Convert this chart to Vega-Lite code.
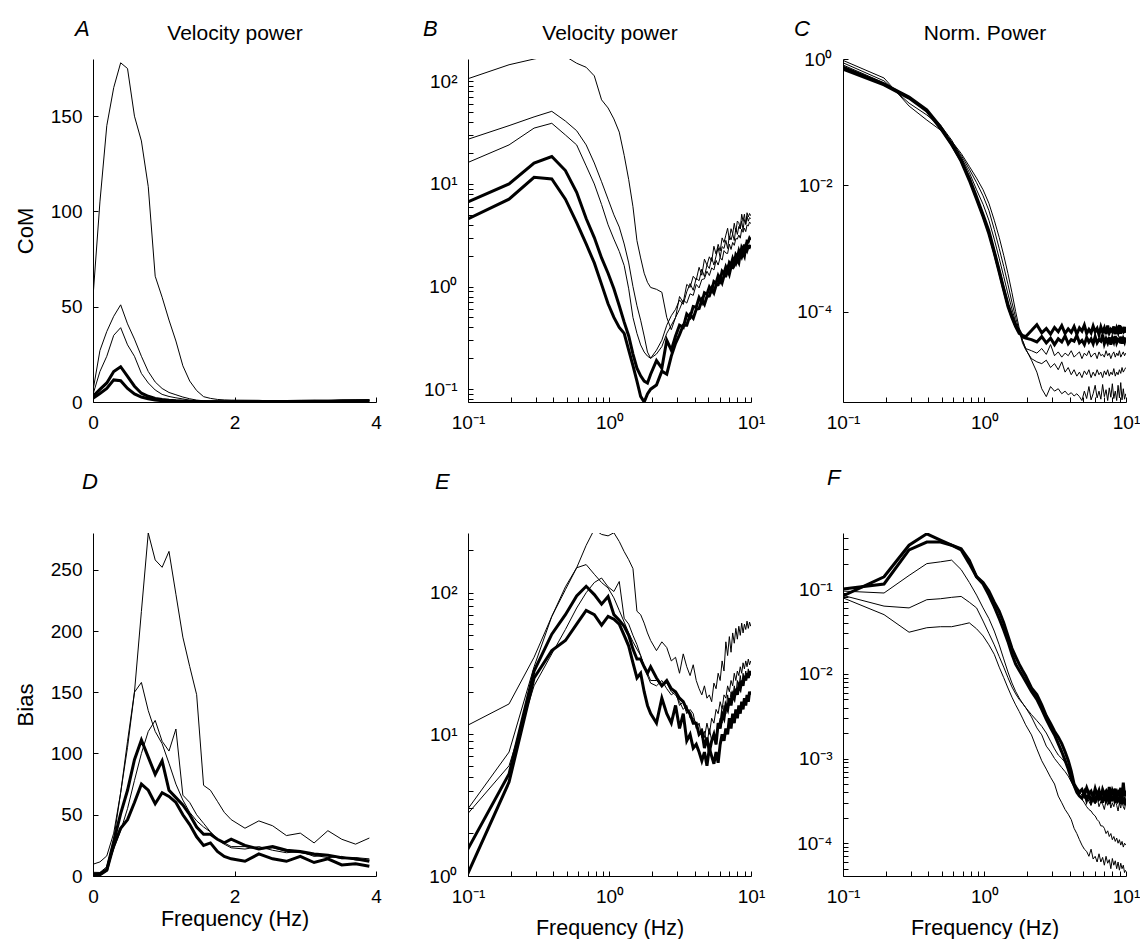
{
"$schema": "https://vega.github.io/schema/vega-lite/v6.json",
"padding": {"left": 14, "top": 17, "right": 0, "bottom": 0},
"background": "white",
"config": {
 "view": {"stroke": null},
 "font": "Liberation Sans",
 "axis": {"grid": false, "domainColor": "black", "domainWidth": 1, "tickColor": "black", "tickWidth": 1, "tickSize": -5, "labelFont": "Liberation Sans", "labelFontSize": 19, "labelColor": "black", "labelFlush": false, "labelOverlap": false, "titleFont": "Liberation Sans", "titleFontSize": 21, "titleFontWeight": "normal", "titleColor": "black"},
 "axisX": {"labelPadding": 16},
 "axisY": {"labelPadding": 16},
 "title": {"font": "Liberation Sans", "fontSize": 22, "fontStyle": "italic", "fontWeight": "normal", "anchor": "start", "frame": "group", "baseline": "alphabetic", "color": "black"}
},
"datasets": {
"com": [
{"f":0,"a":55,"b":6,"c":4,"d":3,"e":2},
{"f":0.098,"a":105,"b":27,"c":16,"d":6.6,"e":4.5},
{"f":0.195,"a":145,"b":37,"c":24,"d":10,"e":7.1},
{"f":0.293,"a":165,"b":45,"c":35,"d":16,"e":11.6},
{"f":0.391,"a":178,"b":51,"c":39,"d":18.5,"e":11.2},
{"f":0.488,"a":175,"b":41,"c":30,"d":13.5,"e":7.1},
{"f":0.586,"a":150,"b":33,"c":24,"d":8.3,"e":4.2},
{"f":0.684,"a":137,"b":24,"c":15,"d":4.6,"e":2.6},
{"f":0.781,"a":113,"b":16,"c":10,"d":3.0,"e":1.7},
{"f":0.879,"a":66,"b":10.5,"c":6.3,"d":1.9,"e":1.05},
{"f":0.977,"a":55,"b":7.1,"c":4.0,"d":1.35,"e":0.68},
{"f":1.074,"a":43,"b":5.0,"c":2.9,"d":0.95,"e":0.5},
{"f":1.172,"a":32,"b":3.8,"c":2.2,"d":0.65,"e":0.4},
{"f":1.27,"a":19,"b":2.6,"c":1.6,"d":0.45,"e":0.35},
{"f":1.367,"a":11,"b":1.7,"c":0.95,"d":0.33,"e":0.24},
{"f":1.465,"a":6,"b":1.0,"c":0.5,"d":0.22,"e":0.17},
{"f":1.563,"a":2.8,"b":0.65,"c":0.35,"d":0.16,"e":0.12},
{"f":1.66,"a":1.9,"b":0.47,"c":0.27,"d":0.135,"e":0.085},
{"f":1.758,"a":1.35,"b":0.33,"c":0.23,"d":0.12,"e":0.075},
{"f":1.855,"a":1.1,"b":0.23,"c":0.21,"d":0.115,"e":0.09},
{"f":1.953,"a":0.98,"b":0.2,"c":0.2,"d":0.14,"e":0.1},
{"f":2.148,"a":0.94,"b":0.24,"c":0.22,"d":0.19,"e":0.11},
{"f":2.344,"a":0.88,"b":0.3,"c":0.26,"d":0.16,"e":0.15},
{"f":2.539,"a":0.5,"b":0.42,"c":0.35,"d":0.3,"e":0.14},
{"f":2.734,"a":0.38,"b":0.52,"c":0.42,"d":0.24,"e":0.21},
{"f":2.93,"a":0.5,"b":0.6,"c":0.5,"d":0.33,"e":0.28},
{"f":3.125,"a":0.8,"b":0.74,"c":0.6,"d":0.42,"e":0.34},
{"f":3.32,"a":0.7,"b":0.67,"c":0.74,"d":0.4,"e":0.42},
{"f":3.516,"a":1.05,"b":0.89,"c":0.69,"d":0.54,"e":0.42},
{"f":3.711,"a":0.98,"b":1.07,"c":0.85,"d":0.5,"e":0.53},
{"f":3.906,"a":1.26,"b":0.92,"c":0.82,"d":0.64,"e":0.49},
{"f":4.102,"a":1.16,"b":1.21,"c":1.05,"d":0.63,"e":0.6},
{"f":4.297,"a":1.54,"b":1.14,"c":0.97,"d":0.78,"e":0.61},
{"f":4.492,"a":1.29,"b":1.48,"c":1.17,"d":0.7,"e":0.74},
{"f":4.688,"a":1.85,"b":1.25,"c":1.19,"d":0.87,"e":0.67},
{"f":4.883,"a":1.62,"b":1.62,"c":1.41,"d":0.84,"e":0.8},
{"f":5.078,"a":1.95,"b":1.5,"c":1.28,"d":0.99,"e":0.81},
{"f":5.273,"a":1.76,"b":1.92,"c":1.52,"d":0.91,"e":0.96},
{"f":5.469,"a":2.47,"b":1.62,"c":1.45,"d":1.12,"e":0.87},
{"f":5.664,"a":2.07,"b":1.98,"c":1.8,"d":1.08,"e":1.03},
{"f":5.859,"a":2.58,"b":2.39,"c":1.62,"d":1.27,"e":1.04},
{"f":6.055,"a":2.22,"b":1.92,"c":1.92,"d":1.15,"e":1.21},
{"f":6.25,"a":2.98,"b":2.45,"c":1.81,"d":1.41,"e":1.09},
{"f":6.445,"a":2.69,"b":2.35,"c":2.24,"d":1.34,"e":1.27},
{"f":6.641,"a":3.17,"b":2.82,"c":2.12,"d":1.55,"e":1.27},
{"f":6.836,"a":3.7,"b":2.35,"c":2.1,"d":1.41,"e":1.48},
{"f":7.031,"a":2.85,"b":3.11,"c":2.59,"d":1.71,"e":1.32},
{"f":7.227,"a":3.66,"b":2.85,"c":2.3,"d":1.63,"e":1.55},
{"f":7.422,"a":3.25,"b":3.25,"c":2.69,"d":1.87,"e":1.53},
{"f":7.617,"a":4.14,"b":2.81,"c":2.52,"d":1.69,"e":1.78},
{"f":7.813,"a":3.4,"b":3.71,"c":2.94,"d":2.04,"e":1.67},
{"f":8.008,"a":4.35,"b":3.22,"c":2.9,"d":1.93,"e":1.83},
{"f":8.203,"a":4.19,"b":3.85,"c":3.18,"d":2.21,"e":1.71},
{"f":8.398,"a":3.65,"b":3.65,"c":2.96,"d":1.99,"e":2.09},
{"f":8.594,"a":5.07,"b":4.34,"c":3.62,"d":2.39,"e":1.95},
{"f":8.789,"a":4.32,"b":3.57,"c":3.38,"d":2.25,"e":2.14},
{"f":8.984,"a":5.07,"b":4.49,"c":3.71,"d":2.57,"e":1.99},
{"f":9.18,"a":4.04,"b":4.04,"c":3.43,"d":2.3,"e":2.42},
{"f":9.375,"a":5.24,"b":4.82,"c":3.98,"d":2.76,"e":2.26},
{"f":9.57,"a":4.76,"b":4.33,"c":3.9,"d":2.73,"e":2.47},
{"f":9.766,"a":5.15,"b":4.7,"c":4.26,"d":2.96,"e":2.42},
{"f":9.961,"a":4.9,"b":4.6,"c":4.1,"d":2.85,"e":2.55}
],
"bias": [
{"f":0,"a":9.6,"b":3,"c":2,"d":1.5,"e":1},
{"f":0.098,"a":11.5,"b":2.9,"c":2.7,"d":1.5,"e":1.0},
{"f":0.195,"a":16.4,"b":7.5,"c":6.0,"d":5.25,"e":4.6},
{"f":0.293,"a":35,"b":30,"c":22,"d":28,"e":25},
{"f":0.391,"a":68,"b":68,"c":37,"d":51,"e":39},
{"f":0.488,"a":105,"b":110,"c":55,"d":70,"e":46},
{"f":0.586,"a":150,"b":150,"c":78,"d":95,"e":60},
{"f":0.684,"a":216,"b":158,"c":100,"d":111,"e":75},
{"f":0.781,"a":280,"b":135,"c":118,"d":97,"e":70},
{"f":0.879,"a":258,"b":118,"c":127,"d":83,"e":59},
{"f":0.977,"a":252,"b":108,"c":110,"d":94,"e":68},
{"f":1.074,"a":265,"b":92,"c":102,"d":70,"e":65},
{"f":1.172,"a":230,"b":75,"c":120,"d":64,"e":60},
{"f":1.27,"a":195,"b":62,"c":66,"d":58,"e":50},
{"f":1.367,"a":171,"b":52,"c":60,"d":50,"e":42},
{"f":1.465,"a":148,"b":45,"c":50,"d":40,"e":32},
{"f":1.563,"a":74,"b":40,"c":43,"d":34,"e":25},
{"f":1.66,"a":70,"b":36,"c":36,"d":34,"e":27},
{"f":1.758,"a":61,"b":30,"c":30,"d":30,"e":20},
{"f":1.855,"a":52,"b":27,"c":26,"d":27,"e":16},
{"f":1.953,"a":46,"b":24,"c":23,"d":30,"e":14},
{"f":2.148,"a":39,"b":24,"c":22,"d":25,"e":12},
{"f":2.344,"a":45,"b":22,"c":24,"d":22,"e":18},
{"f":2.539,"a":41,"b":23,"c":21,"d":24,"e":14},
{"f":2.734,"a":33,"b":20,"c":19,"d":21,"e":12},
{"f":2.93,"a":35,"b":19,"c":20,"d":20,"e":16},
{"f":3.125,"a":27,"b":17,"c":16,"d":18,"e":11},
{"f":3.32,"a":37,"b":15,"c":17,"d":17,"e":14},
{"f":3.516,"a":30,"b":16,"c":14,"d":15,"e":9},
{"f":3.711,"a":26,"b":13,"c":15,"d":14,"e":10},
{"f":3.906,"a":31,"b":13,"c":14,"d":12,"e":8},
{"f":4.102,"a":24,"b":12,"c":11,"d":12,"e":8.5},
{"f":4.297,"a":21,"b":10,"c":12,"d":10,"e":7.5},
{"f":4.492,"a":19,"b":11,"c":9.5,"d":10.5,"e":6.5},
{"f":4.688,"a":22,"b":9.5,"c":10.5,"d":8,"e":7.5},
{"f":4.883,"a":18,"b":12,"c":8.5,"d":9.5,"e":6},
{"f":5.078,"a":19,"b":10,"c":11,"d":7.5,"e":8},
{"f":5.273,"a":17,"b":13,"c":9,"d":9,"e":7},
{"f":5.469,"a":23,"b":12,"c":10,"d":10,"e":6.2},
{"f":5.664,"a":21,"b":15,"c":8.5,"d":8.5,"e":7.5},
{"f":5.859,"a":27,"b":14,"c":11,"d":12,"e":6.3},
{"f":6.055,"a":24,"b":17,"c":13,"d":11,"e":8.5},
{"f":6.25,"a":33,"b":15,"c":12,"d":14,"e":10},
{"f":6.445,"a":28,"b":19,"c":16,"d":13,"e":9},
{"f":6.641,"a":45,"b":18,"c":14,"d":16,"e":11},
{"f":6.836,"a":36,"b":22,"c":19,"d":15,"e":10},
{"f":7.031,"a":49,"b":20,"c":16,"d":18,"e":13},
{"f":7.227,"a":38,"b":24,"c":20,"d":16,"e":11},
{"f":7.422,"a":52,"b":22,"c":18,"d":19,"e":14},
{"f":7.617,"a":44,"b":27,"c":22,"d":18,"e":12},
{"f":7.813,"a":56,"b":24,"c":19,"d":21,"e":15},
{"f":8.008,"a":47,"b":28,"c":24,"d":19,"e":13},
{"f":8.203,"a":58,"b":26,"c":21,"d":22,"e":16},
{"f":8.398,"a":50,"b":30,"c":26,"d":21,"e":14},
{"f":8.594,"a":61,"b":27,"c":22,"d":24,"e":17},
{"f":8.789,"a":52,"b":32,"c":27,"d":22,"e":15},
{"f":8.984,"a":60,"b":29,"c":24,"d":26,"e":18},
{"f":9.18,"a":55,"b":33,"c":28,"d":24,"e":16},
{"f":9.375,"a":63,"b":30,"c":25,"d":27,"e":19},
{"f":9.57,"a":56,"b":34,"c":29,"d":25,"e":17},
{"f":9.766,"a":62,"b":31,"c":26,"d":28,"e":20},
{"f":9.961,"a":58,"b":33,"c":28,"d":26,"e":19}
],
"normcom": [
{"f":0.098,"a":0.97,"b":0.89,"c":0.82,"d":0.76,"e":0.7},
{"f":0.195,"a":0.5,"b":0.45,"c":0.42,"d":0.4,"e":0.39},
{"f":0.293,"a":0.18,"b":0.2,"c":0.25,"d":0.25,"e":0.24},
{"f":0.391,"a":0.108,"b":0.13,"c":0.15,"d":0.156,"e":0.15},
{"f":0.488,"a":0.075,"b":0.085,"c":0.09,"d":0.085,"e":0.08},
{"f":0.586,"a":0.05,"b":0.048,"c":0.052,"d":0.045,"e":0.044},
{"f":0.684,"a":0.032,"b":0.03,"c":0.028,"d":0.024,"e":0.025},
{"f":0.781,"a":0.02,"b":0.018,"c":0.016,"d":0.012,"e":0.013},
{"f":0.879,"a":0.013,"b":0.011,"c":0.0085,"d":0.006,"e":0.0065},
{"f":0.977,"a":0.0085,"b":0.0068,"c":0.005,"d":0.0032,"e":0.0034},
{"f":1.074,"a":0.0052,"b":0.004,"c":0.0028,"d":0.0017,"e":0.0019},
{"f":1.172,"a":0.0028,"b":0.002,"c":0.0014,"d":0.00085,"e":0.0009},
{"f":1.27,"a":0.0015,"b":0.001,"c":0.0007,"d":0.00042,"e":0.00045},
{"f":1.367,"a":0.00078,"b":0.00052,"c":0.00036,"d":0.00022,"e":0.00023},
{"f":1.465,"a":0.0004,"b":0.00027,"c":0.00019,"d":0.00012,"e":0.00013},
{"f":1.563,"a":0.0002,"b":0.00014,"c":0.00011,"d":8e-5,"e":8.5e-5},
{"f":1.66,"a":0.0001,"b":8e-5,"c":6.8e-5,"d":5.8e-5,"e":6e-5},
{"f":1.758,"a":5.5e-5,"b":5e-5,"c":5e-5,"d":4.5e-5,"e":5e-5},
{"f":1.855,"a":3.5e-5,"b":3.2e-5,"c":3.5e-5,"d":4.2e-5,"e":4e-5},
{"f":1.953,"a":2.6e-5,"b":2.5e-5,"c":2.6e-5,"d":4e-5,"e":3.8e-5},
{"f":2.148,"a":1.7e-5,"b":1.8e-5,"c":2.4e-5,"d":5.0e-5,"e":3.6e-5},
{"f":2.344,"a":1.1e-5,"b":1.6e-5,"c":2.2e-5,"d":6.2e-5,"e":3.3e-5},
{"f":2.539,"a":6e-6,"b":1.5e-5,"c":2.6e-5,"d":4.6e-5,"e":4.0e-5},
{"f":2.734,"a":4.5e-6,"b":1.7e-5,"c":2.1e-5,"d":5.4e-5,"e":3.2e-5},
{"f":2.93,"a":6.5e-6,"b":1.3e-5,"c":3.0e-5,"d":4.4e-5,"e":3.8e-5},
{"f":3.125,"a":5.5e-6,"b":1.5e-5,"c":2.0e-5,"d":5.6e-5,"e":3.0e-5},
{"f":3.32,"a":6e-6,"b":1.2e-5,"c":2.3e-5,"d":4.8e-5,"e":3.7e-5},
{"f":3.516,"a":5e-6,"b":1.6e-5,"c":1.9e-5,"d":6.0e-5,"e":3.3e-5},
{"f":3.711,"a":5.5e-6,"b":1.1e-5,"c":2.2e-5,"d":4.5e-5,"e":4.1e-5},
{"f":3.906,"a":4.8e-6,"b":1.3e-5,"c":2.0e-5,"d":5.3e-5,"e":3.1e-5},
{"f":4.102,"a":5.2e-6,"b":1.0e-5,"c":2.4e-5,"d":4.7e-5,"e":3.6e-5},
{"f":4.297,"a":4.6e-6,"b":1.2e-5,"c":1.9e-5,"d":5.8e-5,"e":3.4e-5},
{"f":4.492,"a":5e-6,"b":9.5e-6,"c":2.1e-5,"d":4.4e-5,"e":4.2e-5},
{"f":4.688,"a":4.5e-6,"b":1.1e-5,"c":2.3e-5,"d":5.5e-5,"e":3.2e-5},
{"f":4.883,"a":3.9e-6,"b":9e-6,"c":1.8e-5,"d":4.9e-5,"e":3.5e-5},
{"f":5.078,"a":5.5e-6,"b":1.15e-5,"c":2.2e-5,"d":6.1e-5,"e":3.0e-5},
{"f":5.273,"a":4.2e-6,"b":1.0e-5,"c":2.0e-5,"d":4.5e-5,"e":3.9e-5},
{"f":5.469,"a":6.5e-6,"b":1.2e-5,"c":2.4e-5,"d":5.2e-5,"e":3.3e-5},
{"f":5.664,"a":4e-6,"b":9e-6,"c":1.9e-5,"d":4.6e-5,"e":3.7e-5},
{"f":5.859,"a":5e-6,"b":1.1e-5,"c":2.1e-5,"d":5.9e-5,"e":3.1e-5},
{"f":6.055,"a":6.8e-6,"b":9.5e-6,"c":2.2e-5,"d":4.8e-5,"e":4.0e-5},
{"f":6.25,"a":4.3e-6,"b":1.2e-5,"c":1.8e-5,"d":5.4e-5,"e":3.2e-5},
{"f":6.445,"a":5.5e-6,"b":1.0e-5,"c":2.3e-5,"d":4.3e-5,"e":3.6e-5},
{"f":6.641,"a":4.1e-6,"b":1.1e-5,"c":2.0e-5,"d":5.7e-5,"e":3.4e-5},
{"f":6.836,"a":7e-6,"b":9e-6,"c":2.1e-5,"d":4.7e-5,"e":4.3e-5},
{"f":7.031,"a":4.5e-6,"b":1.15e-5,"c":1.9e-5,"d":5.5e-5,"e":3.1e-5},
{"f":7.227,"a":5.8e-6,"b":1.0e-5,"c":2.4e-5,"d":4.4e-5,"e":3.7e-5},
{"f":7.422,"a":3.9e-6,"b":1.2e-5,"c":2.0e-5,"d":6.0e-5,"e":3.2e-5},
{"f":7.617,"a":6.2e-6,"b":9.5e-6,"c":2.2e-5,"d":4.6e-5,"e":3.9e-5},
{"f":7.813,"a":4.4e-6,"b":1.1e-5,"c":1.8e-5,"d":5.2e-5,"e":3.0e-5},
{"f":8.008,"a":7.2e-6,"b":1.0e-5,"c":2.1e-5,"d":4.8e-5,"e":3.8e-5},
{"f":8.203,"a":4.2e-6,"b":1.25e-5,"c":2.3e-5,"d":5.8e-5,"e":3.3e-5},
{"f":8.398,"a":5.5e-6,"b":9.5e-6,"c":1.9e-5,"d":4.4e-5,"e":4.1e-5},
{"f":8.594,"a":3.9e-6,"b":1.1e-5,"c":2.2e-5,"d":5.4e-5,"e":3.2e-5},
{"f":8.789,"a":6.8e-6,"b":1.0e-5,"c":2.0e-5,"d":4.7e-5,"e":3.6e-5},
{"f":8.984,"a":4.3e-6,"b":1.2e-5,"c":2.4e-5,"d":6.1e-5,"e":3.4e-5},
{"f":9.18,"a":7.5e-6,"b":1.05e-5,"c":1.9e-5,"d":4.5e-5,"e":4.0e-5},
{"f":9.375,"a":4e-6,"b":1.3e-5,"c":2.1e-5,"d":5.3e-5,"e":3.1e-5},
{"f":9.57,"a":6e-6,"b":1.1e-5,"c":2.3e-5,"d":4.9e-5,"e":3.7e-5},
{"f":9.766,"a":4.1e-6,"b":1.2e-5,"c":2.0e-5,"d":5.7e-5,"e":3.3e-5},
{"f":9.961,"a":5e-6,"b":1.3e-5,"c":2.2e-5,"d":4.6e-5,"e":3.9e-5}
],
"normbias": [
{"f":0.098,"a":0.08,"b":0.085,"c":0.095,"d":0.082,"e":0.1},
{"f":0.195,"a":0.05,"b":0.063,"c":0.09,"d":0.14,"e":0.115},
{"f":0.293,"a":0.031,"b":0.06,"c":0.145,"d":0.33,"e":0.29},
{"f":0.391,"a":0.035,"b":0.075,"c":0.2,"d":0.45,"e":0.36},
{"f":0.488,"a":0.036,"b":0.077,"c":0.21,"d":0.38,"e":0.36},
{"f":0.586,"a":0.036,"b":0.08,"c":0.22,"d":0.33,"e":0.33},
{"f":0.684,"a":0.038,"b":0.082,"c":0.17,"d":0.3,"e":0.29},
{"f":0.781,"a":0.04,"b":0.07,"c":0.12,"d":0.22,"e":0.2},
{"f":0.879,"a":0.034,"b":0.06,"c":0.085,"d":0.14,"e":0.14},
{"f":0.977,"a":0.028,"b":0.042,"c":0.06,"d":0.12,"e":0.115},
{"f":1.074,"a":0.022,"b":0.03,"c":0.045,"d":0.095,"e":0.085},
{"f":1.172,"a":0.017,"b":0.022,"c":0.032,"d":0.07,"e":0.062},
{"f":1.27,"a":0.012,"b":0.016,"c":0.022,"d":0.055,"e":0.045},
{"f":1.367,"a":0.009,"b":0.012,"c":0.015,"d":0.04,"e":0.033},
{"f":1.465,"a":0.0068,"b":0.009,"c":0.0105,"d":0.028,"e":0.024},
{"f":1.563,"a":0.0053,"b":0.007,"c":0.0078,"d":0.02,"e":0.017},
{"f":1.66,"a":0.0043,"b":0.0058,"c":0.0062,"d":0.016,"e":0.013},
{"f":1.758,"a":0.0036,"b":0.005,"c":0.0052,"d":0.013,"e":0.011},
{"f":1.855,"a":0.003,"b":0.0045,"c":0.0045,"d":0.011,"e":0.0095},
{"f":1.953,"a":0.0025,"b":0.004,"c":0.004,"d":0.0095,"e":0.0082},
{"f":2.148,"a":0.0019,"b":0.0031,"c":0.0033,"d":0.0068,"e":0.0062},
{"f":2.344,"a":0.0013,"b":0.0023,"c":0.0028,"d":0.0057,"e":0.005},
{"f":2.539,"a":0.00094,"b":0.0019,"c":0.0024,"d":0.0043,"e":0.0038},
{"f":2.734,"a":0.00075,"b":0.0014,"c":0.002,"d":0.0032,"e":0.0029},
{"f":2.93,"a":0.0006,"b":0.0012,"c":0.0016,"d":0.0026,"e":0.0023},
{"f":3.125,"a":0.0005,"b":0.001,"c":0.0013,"d":0.0021,"e":0.0019},
{"f":3.32,"a":0.00036,"b":0.00088,"c":0.0011,"d":0.0018,"e":0.0015},
{"f":3.516,"a":0.0003,"b":0.00078,"c":0.001,"d":0.0015,"e":0.0012},
{"f":3.711,"a":0.00025,"b":0.0007,"c":0.0009,"d":0.0012,"e":0.00095},
{"f":3.906,"a":0.00022,"b":0.00062,"c":0.0008,"d":0.00095,"e":0.00075},
{"f":4.102,"a":0.00019,"b":0.00053,"c":0.00066,"d":0.00071,"e":0.00058},
{"f":4.297,"a":0.00015,"b":0.00046,"c":0.00052,"d":0.0005,"e":0.00048},
{"f":4.492,"a":0.00013,"b":0.0004,"c":0.00045,"d":0.00044,"e":0.0004},
{"f":4.688,"a":0.00011,"b":0.00036,"c":0.0004,"d":0.0004,"e":0.00036},
{"f":4.883,"a":9.5e-5,"b":0.00033,"c":0.00037,"d":0.00043,"e":0.00034},
{"f":5.078,"a":8.5e-5,"b":0.0003,"c":0.00034,"d":0.00037,"e":0.0004},
{"f":5.273,"a":8e-5,"b":0.00027,"c":0.00037,"d":0.00045,"e":0.00032},
{"f":5.469,"a":7e-5,"b":0.00025,"c":0.00031,"d":0.00038,"e":0.00038},
{"f":5.664,"a":8.5e-5,"b":0.00024,"c":0.00028,"d":0.00041,"e":0.00031},
{"f":5.859,"a":6.5e-5,"b":0.00022,"c":0.00033,"d":0.00035,"e":0.00036},
{"f":6.055,"a":7e-5,"b":0.00021,"c":0.00029,"d":0.00044,"e":0.0003},
{"f":6.25,"a":6e-5,"b":0.00019,"c":0.00035,"d":0.00037,"e":0.00039},
{"f":6.445,"a":7.5e-5,"b":0.00018,"c":0.00027,"d":0.00042,"e":0.00033},
{"f":6.641,"a":6e-5,"b":0.00016,"c":0.00031,"d":0.00034,"e":0.00035},
{"f":6.836,"a":6.8e-5,"b":0.00016,"c":0.00029,"d":0.00043,"e":0.0003},
{"f":7.031,"a":5.5e-5,"b":0.00015,"c":0.00025,"d":0.00038,"e":0.00038},
{"f":7.227,"a":7e-5,"b":0.00013,"c":0.00032,"d":0.00041,"e":0.00032},
{"f":7.422,"a":5.8e-5,"b":0.00014,"c":0.00028,"d":0.00036,"e":0.00036},
{"f":7.617,"a":6.4e-5,"b":0.00012,"c":0.00033,"d":0.00046,"e":0.00029},
{"f":7.813,"a":5e-5,"b":0.00013,"c":0.00026,"d":0.00035,"e":0.00037},
{"f":8.008,"a":6.6e-5,"b":0.00011,"c":0.0003,"d":0.00042,"e":0.00033},
{"f":8.203,"a":5.5e-5,"b":0.00012,"c":0.00027,"d":0.00038,"e":0.00035},
{"f":8.398,"a":6.2e-5,"b":0.000105,"c":0.00032,"d":0.00044,"e":0.0003},
{"f":8.594,"a":5e-5,"b":0.000115,"c":0.00028,"d":0.00036,"e":0.00038},
{"f":8.789,"a":6e-5,"b":0.0001,"c":0.00024,"d":0.0004,"e":0.00032},
{"f":8.984,"a":4.8e-5,"b":0.00011,"c":0.0003,"d":0.00037,"e":0.00034},
{"f":9.18,"a":5.8e-5,"b":9.5e-5,"c":0.00026,"d":0.00045,"e":0.00029},
{"f":9.375,"a":5e-5,"b":0.000105,"c":0.00033,"d":0.00035,"e":0.00036},
{"f":9.57,"a":5.5e-5,"b":9e-5,"c":0.00027,"d":0.00052,"e":0.00031},
{"f":9.766,"a":4.5e-5,"b":0.0001,"c":0.00025,"d":0.00036,"e":0.00033},
{"f":9.961,"a":4.8e-5,"b":9.5e-5,"c":0.00031,"d":0.00042,"e":0.00028}
]
},
"columns": 3,
"spacing": {"row": 131, "column": 92},
"bounds": "flush",
"concat": [
{
 "width": 283, "height": 343,
 "title": {"text": "A", "dx": -18, "offset": -18.5},
 "data": {"name": "com"},
 "transform": [{"filter": "datum.f <= 3.95"}, {"fold": ["a","b","c","d","e"], "as": ["s","v"]}],
 "encoding": {
  "x": {"field": "f", "type": "quantitative", "scale": {"domain": [0,4], "nice": false, "zero": false},
        "axis": {"values": [0,2,4], "title": "Velocity power", "titleX": 141.5, "titleY": -363, "titleAlign": "center", "titleBaseline": "alphabetic"}},
  "y": {"field": "v", "type": "quantitative", "scale": {"domain": [0,180], "nice": false},
        "axis": {"values": [0,50,100,150], "title": "CoM", "titleX": -61, "titleY": 171.5, "titleAngle": -90, "titleAlign": "center", "titleBaseline": "alphabetic", "titleFontSize": 22}},
  "detail": {"field": "s", "type": "nominal"}
 },
 "layer": [
  {"transform": [{"filter": {"field": "s", "oneOf": ["a","b","c"]}}], "mark": {"type": "line", "color": "black", "strokeWidth": 1, "clip": true}},
  {"transform": [{"filter": {"field": "s", "oneOf": ["d","e"]}}], "mark": {"type": "line", "color": "black", "strokeWidth": 3, "clip": true}}
 ]
},
{
 "width": 283, "height": 343,
 "title": {"text": "B", "dx": -45, "offset": -18.5},
 "data": {"name": "com"},
 "transform": [{"filter": "datum.f > 0.05"}, {"fold": ["a","b","c","d","e"], "as": ["s","v"]}],
 "encoding": {
  "x": {"field": "f", "type": "quantitative", "scale": {"type": "log", "domain": [0.1,10], "nice": false},
        "axis": {"values": [0.1,0.2,0.3,0.4,0.5,0.6,0.7,0.8,0.9,1,2,3,4,5,6,7,8,9,10], "labelExpr": "datum.value==0.1?'10⁻¹':datum.value==1?'10⁰':datum.value==10?'10¹':''", "title": "Velocity power", "titleX": 141.5, "titleY": -363, "titleAlign": "center", "titleBaseline": "alphabetic"}},
  "y": {"field": "v", "type": "quantitative", "scale": {"type": "log", "domain": [0.075,165], "nice": false},
        "axis": {"values": [0.08,0.09,0.1,0.2,0.3,0.4,0.5,0.6,0.7,0.8,0.9,1,2,3,4,5,6,7,8,9,10,20,30,40,50,60,70,80,90,100], "labelExpr": "datum.value==0.1?'10⁻¹':datum.value==1?'10⁰':datum.value==10?'10¹':datum.value==100?'10²':''", "title": null}},
  "detail": {"field": "s", "type": "nominal"}
 },
 "layer": [
  {"transform": [{"filter": {"field": "s", "oneOf": ["a","b","c"]}}], "mark": {"type": "line", "color": "black", "strokeWidth": 1, "clip": true}},
  {"transform": [{"filter": {"field": "s", "oneOf": ["d","e"]}}], "mark": {"type": "line", "color": "black", "strokeWidth": 3, "clip": true}}
 ]
},
{
 "width": 283, "height": 343,
 "title": {"text": "C", "dx": -49, "offset": -18.5},
 "data": {"name": "normcom"},
 "transform": [{"fold": ["a","b","c","d","e"], "as": ["s","v"]}],
 "encoding": {
  "x": {"field": "f", "type": "quantitative", "scale": {"type": "log", "domain": [0.1,10], "nice": false},
        "axis": {"values": [0.1,0.2,0.3,0.4,0.5,0.6,0.7,0.8,0.9,1,2,3,4,5,6,7,8,9,10], "labelExpr": "datum.value==0.1?'10⁻¹':datum.value==1?'10⁰':datum.value==10?'10¹':''", "title": "Norm. Power", "titleX": 141.5, "titleY": -363, "titleAlign": "center", "titleBaseline": "alphabetic"}},
  "y": {"field": "v", "type": "quantitative", "scale": {"type": "log", "domain": [3.7e-6,1], "nice": false},
        "axis": {"values": [0.0001,0.01,1], "labelExpr": "datum.value==1?'10⁰':datum.value==0.01?'10⁻²':datum.value==0.0001?'10⁻⁴':''", "title": null}},
  "detail": {"field": "s", "type": "nominal"}
 },
 "layer": [
  {"transform": [{"filter": {"field": "s", "oneOf": ["a","b","c"]}}], "mark": {"type": "line", "color": "black", "strokeWidth": 1, "clip": true}},
  {"transform": [{"filter": {"field": "s", "oneOf": ["d","e"]}}], "mark": {"type": "line", "color": "black", "strokeWidth": 3, "clip": true}}
 ]
},
{
 "width": 283, "height": 343,
 "title": {"text": "D", "dx": -11, "offset": 39},
 "data": {"name": "bias"},
 "transform": [{"filter": "datum.f <= 3.95"}, {"fold": ["a","b","c","d","e"], "as": ["s","v"]}],
 "encoding": {
  "x": {"field": "f", "type": "quantitative", "scale": {"domain": [0,4], "nice": false, "zero": false},
        "axis": {"values": [0,2,4], "title": "Frequency (Hz)", "titlePadding": 2, "titleFontSize": 21.5}},
  "y": {"field": "v", "type": "quantitative", "scale": {"domain": [0,280], "nice": false},
        "axis": {"values": [0,50,100,150,200,250], "title": "Bias", "titleX": -61, "titleY": 171.5, "titleAngle": -90, "titleAlign": "center", "titleBaseline": "alphabetic", "titleFontSize": 22}},
  "detail": {"field": "s", "type": "nominal"}
 },
 "layer": [
  {"transform": [{"filter": {"field": "s", "oneOf": ["a","b","c"]}}], "mark": {"type": "line", "color": "black", "strokeWidth": 1, "clip": true}},
  {"transform": [{"filter": {"field": "s", "oneOf": ["d","e"]}}], "mark": {"type": "line", "color": "black", "strokeWidth": 3, "clip": true}}
 ]
},
{
 "width": 283, "height": 343,
 "title": {"text": "E", "dx": -33, "offset": 39},
 "data": {"name": "bias"},
 "transform": [{"filter": "datum.f > 0.05"}, {"fold": ["a","b","c","d","e"], "as": ["s","v"]}],
 "encoding": {
  "x": {"field": "f", "type": "quantitative", "scale": {"type": "log", "domain": [0.1,10], "nice": false},
        "axis": {"values": [0.1,0.2,0.3,0.4,0.5,0.6,0.7,0.8,0.9,1,2,3,4,5,6,7,8,9,10], "labelExpr": "datum.value==0.1?'10⁻¹':datum.value==1?'10⁰':datum.value==10?'10¹':''", "title": "Frequency (Hz)", "titlePadding": 11, "titleFontSize": 21.5}},
  "y": {"field": "v", "type": "quantitative", "scale": {"type": "log", "domain": [1,264], "nice": false},
        "axis": {"values": [1,2,3,4,5,6,7,8,9,10,20,30,40,50,60,70,80,90,100,200], "labelExpr": "datum.value==1?'10⁰':datum.value==10?'10¹':datum.value==100?'10²':''", "title": null}},
  "detail": {"field": "s", "type": "nominal"}
 },
 "layer": [
  {"transform": [{"filter": {"field": "s", "oneOf": ["a","b","c"]}}], "mark": {"type": "line", "color": "black", "strokeWidth": 1, "clip": true}},
  {"transform": [{"filter": {"field": "s", "oneOf": ["d","e"]}}], "mark": {"type": "line", "color": "black", "strokeWidth": 3, "clip": true}}
 ]
},
{
 "width": 283, "height": 343,
 "title": {"text": "F", "dx": -16, "offset": 39},
 "data": {"name": "normbias"},
 "transform": [{"fold": ["a","b","c","d","e"], "as": ["s","v"]}],
 "encoding": {
  "x": {"field": "f", "type": "quantitative", "scale": {"type": "log", "domain": [0.1,10], "nice": false},
        "axis": {"values": [0.1,0.2,0.3,0.4,0.5,0.6,0.7,0.8,0.9,1,2,3,4,5,6,7,8,9,10], "labelExpr": "datum.value==0.1?'10⁻¹':datum.value==1?'10⁰':datum.value==10?'10¹':''", "title": "Frequency (Hz)", "titlePadding": 11, "titleFontSize": 21.5}},
  "y": {"field": "v", "type": "quantitative", "scale": {"type": "log", "domain": [4.1e-5,0.46], "nice": false},
        "axis": {"values": [5e-5,6e-5,7e-5,8e-5,9e-5,0.0001,0.0002,0.0003,0.0004,0.0005,0.0006,0.0007,0.0008,0.0009,0.001,0.002,0.003,0.004,0.005,0.006,0.007,0.008,0.009,0.01,0.02,0.03,0.04,0.05,0.06,0.07,0.08,0.09,0.1,0.2,0.3,0.4], "labelExpr": "datum.value==0.1?'10⁻¹':datum.value==0.01?'10⁻²':datum.value==0.001?'10⁻³':datum.value==0.0001?'10⁻⁴':''", "title": null}},
  "detail": {"field": "s", "type": "nominal"}
 },
 "layer": [
  {"transform": [{"filter": {"field": "s", "oneOf": ["a","b","c"]}}], "mark": {"type": "line", "color": "black", "strokeWidth": 1, "clip": true}},
  {"transform": [{"filter": {"field": "s", "oneOf": ["d","e"]}}], "mark": {"type": "line", "color": "black", "strokeWidth": 3, "clip": true}}
 ]
}
]
}
